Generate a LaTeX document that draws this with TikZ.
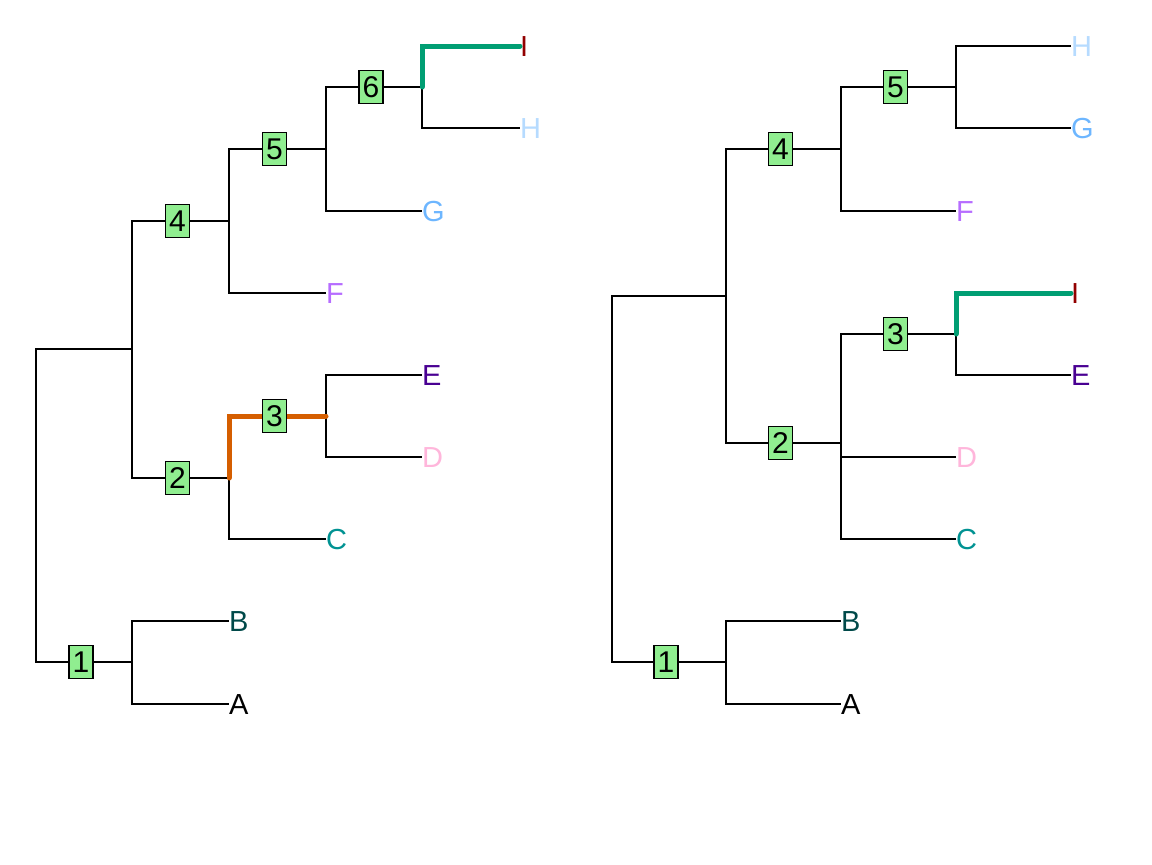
\documentclass[tikz,border=0pt]{standalone}
\usepackage{fontspec}
\setmainfont{Liberation Sans}
\definecolor{cA}{HTML}{000000}
\definecolor{cB}{HTML}{004949}
\definecolor{cC}{HTML}{009292}
\definecolor{cD}{HTML}{FFB6DB}
\definecolor{cE}{HTML}{490092}
\definecolor{cF}{HTML}{B66DFF}
\definecolor{cG}{HTML}{6DB6FF}
\definecolor{cH}{HTML}{B6DBFF}
\definecolor{cI}{HTML}{920000}
\definecolor{boxgreen}{HTML}{90EE90}
\definecolor{pathgreen}{HTML}{009E73}
\definecolor{pathorange}{HTML}{D55E00}
\begin{document}
\begin{tikzpicture}[x=1pt,y=-1pt,
  edge/.style={draw=black,line width=1.8pt},
  hlgreen/.style={draw=pathgreen,line width=5pt,line cap=round},
  hlorange/.style={draw=pathorange,line width=5pt,line cap=round},
  leaf/.style={anchor=west,inner sep=0pt,font=\fontsize{29}{29}\selectfont,text height=21pt,text depth=0pt},
  numbox/.style={draw=black,fill=boxgreen,line width=1.4pt,inner sep=0pt,minimum width=24pt,minimum height=33pt,font=\fontsize{30}{30}\selectfont,text height=21.5pt,text depth=0pt,xshift=-3pt}
]
\useasboundingbox (0,0) rectangle (1152,865);
% ---------------- left tree ----------------
\coordinate (L0) at (36,505);
\coordinate (L42) at (132,349);
\coordinate (L1) at (132,662);
\coordinate (L4) at (229,221);
\coordinate (L2) at (229,478);
\coordinate (L5) at (326,149);
\coordinate (L3) at (326,416);
\coordinate (L6) at (422,87);
\node[leaf,text=cI] (LI) at (520,46) {I};
\node[leaf,text=cH] (LH) at (520,128) {H};
\node[leaf,text=cG] (LG) at (422,211) {G};
\node[leaf,text=cF] (LF) at (326,293) {F};
\node[leaf,text=cE] (LE) at (422,375) {E};
\node[leaf,text=cD] (LD) at (422,457) {D};
\node[leaf,text=cC] (LC) at (326,539) {C};
\node[leaf,text=cB] (LB) at (229,621) {B};
\node[leaf,text=cA] (LA) at (229,704) {A};
\draw[edge] (L0) |- (L42);
\draw[edge] (L0) |- (L1);
\draw[edge] (L42) |- (L4);
\draw[edge] (L42) |- (L2);
\draw[edge] (L4) |- (L5);
\draw[edge] (L4) |- (LF.west);
\draw[edge] (L5) |- (L6);
\draw[edge] (L5) |- (LG.west);
\draw[edge] (L6) |- (LH.west);
\draw[edge] (L2) |- (LC.west);
\draw[edge] (L3) |- (LE.west);
\draw[edge] (L3) |- (LD.west);
\draw[edge] (L1) |- (LB.west);
\draw[edge] (L1) |- (LA.west);
\draw[hlgreen] (L6) |- (LI.west);
\draw[hlorange] (L2) |- (L3);
\path (L0) |- node[pos=0.75,numbox] (Lb1) {1} (L1);
\path (L42) |- node[pos=0.75,numbox] (Lb4) {4} (L4);
\path (L42) |- node[pos=0.75,numbox] (Lb2) {2} (L2);
\path (L4) |- node[pos=0.75,numbox] (Lb5) {5} (L5);
\path (L5) |- node[pos=0.75,numbox] (Lb6) {6} (L6);
\path (L2) |- node[pos=0.75,numbox] (Lb3) {3} (L3);
% ---------------- right tree ----------------
\coordinate (R0) at (612,479);
\coordinate (R42) at (726,296);
\coordinate (R1) at (726,662);
\coordinate (R4) at (841,149);
\coordinate (R2) at (841,443);
\coordinate (R5) at (956,87);
\coordinate (R3) at (956,334);
\node[leaf,text=cH] (RH) at (1071,46) {H};
\node[leaf,text=cG] (RG) at (1071,128) {G};
\node[leaf,text=cF] (RF) at (956,211) {F};
\node[leaf,text=cI] (RI) at (1071,293) {I};
\node[leaf,text=cE] (RE) at (1071,375) {E};
\node[leaf,text=cD] (RD) at (956,457) {D};
\node[leaf,text=cC] (RC) at (956,539) {C};
\node[leaf,text=cB] (RB) at (841,621) {B};
\node[leaf,text=cA] (RA) at (841,704) {A};
\draw[edge] (R0) |- (R42);
\draw[edge] (R0) |- (R1);
\draw[edge] (R42) |- (R4);
\draw[edge] (R42) |- (R2);
\draw[edge] (R4) |- (R5);
\draw[edge] (R4) |- (RF.west);
\draw[edge] (R5) |- (RH.west);
\draw[edge] (R5) |- (RG.west);
\draw[edge] (R2) |- (R3);
\draw[edge] (R2) |- (RD.west);
\draw[edge] (R2) |- (RC.west);
\draw[edge] (R3) |- (RE.west);
\draw[edge] (R1) |- (RB.west);
\draw[edge] (R1) |- (RA.west);
\draw[hlgreen] (R3) |- (RI.west);
\path (R0) |- node[pos=0.75,numbox] (Rb1) {1} (R1);
\path (R42) |- node[pos=0.75,numbox] (Rb4) {4} (R4);
\path (R42) |- node[pos=0.75,numbox] (Rb2) {2} (R2);
\path (R4) |- node[pos=0.75,numbox] (Rb5) {5} (R5);
\path (R2) |- node[pos=0.75,numbox] (Rb3) {3} (R3);
\end{tikzpicture}
\end{document}
